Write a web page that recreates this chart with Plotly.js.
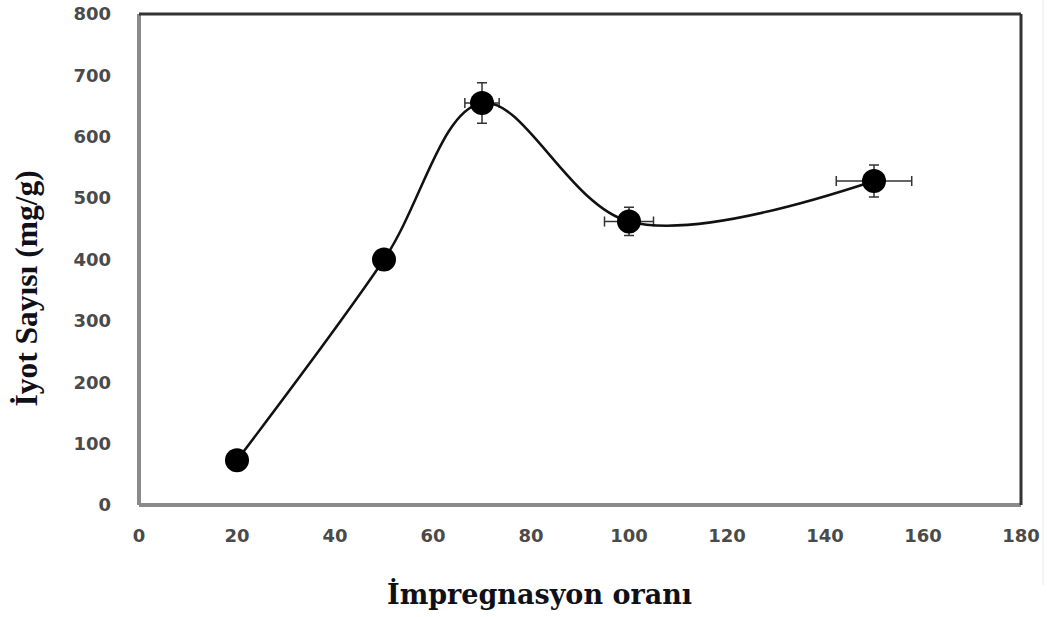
<!DOCTYPE html>
<html>
<head>
<meta charset="utf-8">
<script src="https://cdn.plot.ly/plotly-3.0.1.min.js"></script>
<style>
  html, body { margin: 0; padding: 0; background: #fff; }
  #chart { width: 1047px; height: 617px; }
</style>
</head>
<body>
<div id="chart"></div>
<script>
// Impregnation ratio vs. iodine number, with measurement uncertainty
const impregnationRatio = [20, 50, 70, 100, 150];
const iodineNumber = [73, 400, 655, 462, 528];
const iodineError = [0, 0, 33, 23, 26];
const ratioError = [0, 0, 3.5, 5, 7.7];

const xTickValues = [0, 20, 40, 60, 80, 100, 120, 140, 160, 180];
const yTickValues = [0, 100, 200, 300, 400, 500, 600, 700, 800];

const trace = {
  x: impregnationRatio,
  y: iodineNumber,
  type: 'scatter',
  mode: 'lines+markers',
  line: { color: '#111', width: 2.5, shape: 'spline', smoothing: 1.0 },
  marker: { color: '#000', size: 24 },
  error_y: { type: 'data', array: iodineError, visible: true, color: '#333', thickness: 1.5, width: 5 },
  error_x: { type: 'data', array: ratioError, visible: true, color: '#333', thickness: 1.5, width: 5 },
  hoverinfo: 'x+y'
};

const tickFont = { family: 'DejaVu Sans', size: 18, color: '#4a4a4a', weight: 'bold' };

const layout = {
  width: 1047,
  height: 617,
  margin: { l: 139, r: 26, t: 14, b: 112 },
  paper_bgcolor: '#fff',
  plot_bgcolor: '#fff',
  showlegend: false,
  xaxis: {
    range: [0, 180],
    tickvals: xTickValues,
    ticktext: xTickValues.map(String),
    showgrid: false,
    zeroline: false,
    showline: false,
    ticks: '',
    ticklabelstandoff: 18,
    tickfont: tickFont,
    fixedrange: true
  },
  yaxis: {
    range: [0, 800],
    tickvals: yTickValues,
    ticktext: yTickValues.map(String),
    showgrid: false,
    zeroline: false,
    showline: false,
    ticks: '',
    ticklabelstandoff: 27,
    tickfont: tickFont,
    fixedrange: true
  },
  shapes: [
    // plot frame: light left/bottom edges, dark top/right edges
    { type: 'line', xref: 'paper', yref: 'paper', x0: 0, x1: 0, y0: 0, y1: 1, line: { color: '#8a8a8a', width: 4 } },
    { type: 'line', xref: 'paper', yref: 'paper', x0: 0, x1: 1, y0: 0, y1: 0, line: { color: '#8a8a8a', width: 4 } },
    { type: 'line', xref: 'paper', yref: 'paper', x0: 0, x1: 1, y0: 1, y1: 1, line: { color: '#333', width: 3 } },
    { type: 'line', xref: 'paper', yref: 'paper', x0: 1, x1: 1, y0: 0, y1: 1, line: { color: '#333', width: 3 } },
    // faint page edge on the right
    { type: 'line', xref: 'paper', yref: 'paper', x0: 1.025, x1: 1.025, y0: -0.163, y1: 1.03, line: { color: '#e8e8e8', width: 1 } }
  ],
  annotations: [
    {
      text: 'İyot Sayısı (mg/g)',
      xref: 'paper', yref: 'paper',
      x: -0.128, y: 0.441,
      showarrow: false, textangle: -90,
      xanchor: 'center', yanchor: 'middle',
      font: { family: 'Liberation Serif', size: 31.5, color: '#101018', weight: 'bold' }
    },
    {
      text: 'İmpregnasyon oranı',
      xref: 'paper', yref: 'paper',
      x: 0.454, y: -0.18,
      showarrow: false,
      xanchor: 'center', yanchor: 'middle',
      font: { family: 'DejaVu Serif', size: 27, color: '#101018', weight: 'bold' }
    }
  ]
};

Plotly.newPlot('chart', [trace], layout, { displayModeBar: false, staticPlot: true });
</script>
</body>
</html>
